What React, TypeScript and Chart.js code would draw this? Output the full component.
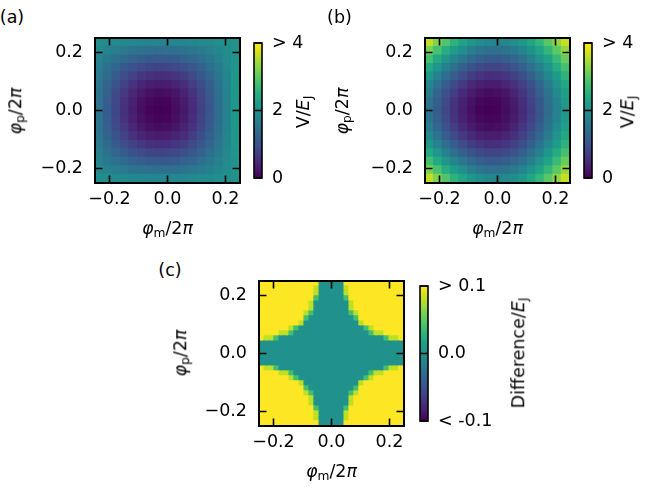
import React, { useEffect, useRef } from "react";
import { Chart, registerables } from "chart.js";

Chart.register(...registerables);

// ---------------- data ----------------
const PHI_MIN = -0.25;
const PHI_MAX = 0.25;
const PANEL_TICKS = [-0.2, 0, 0.2];
const PANEL_TICK_LABELS = ["\u22120.2", "0.0", "0.2"];

// cell centres (phi / 2pi) of the sampled grids
const PHI_COARSE = [-0.235, -0.206, -0.176, -0.147, -0.118, -0.088, -0.059, -0.029, 0, 0.029, 0.059, 0.088, 0.118, 0.147, 0.176, 0.206, 0.235];
const PHI_FINE = [-0.241, -0.224, -0.207, -0.19, -0.172, -0.155, -0.138, -0.121, -0.103, -0.086, -0.069, -0.052, -0.034, -0.017, 0, 0.017, 0.034, 0.052, 0.069, 0.086, 0.103, 0.121, 0.138, 0.155, 0.172, 0.19, 0.207, 0.224, 0.241];

// (a) V/E_J, rows from top (phi_p = +0.235) to bottom
const V_A = [
  [1.96, 1.92, 1.89, 1.87, 1.85, 1.83, 1.82, 1.82, 1.82, 1.83, 1.84, 1.86, 1.89, 1.91, 1.95, 1.98, 2.01],
  [1.87, 1.77, 1.68, 1.61, 1.54, 1.5, 1.46, 1.45, 1.46, 1.48, 1.53, 1.59, 1.66, 1.74, 1.84, 1.93, 2.04],
  [1.78, 1.62, 1.48, 1.36, 1.26, 1.18, 1.13, 1.11, 1.12, 1.16, 1.23, 1.32, 1.44, 1.58, 1.73, 1.89, 2.06],
  [1.7, 1.49, 1.3, 1.13, 0.99, 0.89, 0.82, 0.79, 0.81, 0.86, 0.96, 1.09, 1.25, 1.43, 1.64, 1.86, 2.08],
  [1.64, 1.38, 1.14, 0.94, 0.77, 0.64, 0.56, 0.52, 0.54, 0.61, 0.72, 0.88, 1.08, 1.31, 1.56, 1.82, 2.1],
  [1.58, 1.28, 1.01, 0.78, 0.58, 0.43, 0.34, 0.3, 0.32, 0.4, 0.53, 0.71, 0.94, 1.2, 1.49, 1.8, 2.11],
  [1.54, 1.21, 0.92, 0.66, 0.44, 0.28, 0.18, 0.13, 0.16, 0.24, 0.39, 0.59, 0.83, 1.12, 1.44, 1.78, 2.12],
  [1.51, 1.17, 0.86, 0.58, 0.36, 0.19, 0.08, 0.03, 0.06, 0.15, 0.3, 0.51, 0.77, 1.08, 1.41, 1.76, 2.13],
  [1.51, 1.16, 0.84, 0.56, 0.33, 0.16, 0.04, 0, 0.02, 0.12, 0.27, 0.48, 0.75, 1.06, 1.4, 1.76, 2.13],
  [1.51, 1.17, 0.86, 0.58, 0.36, 0.19, 0.08, 0.03, 0.06, 0.15, 0.3, 0.51, 0.77, 1.08, 1.41, 1.76, 2.13],
  [1.54, 1.21, 0.92, 0.66, 0.44, 0.28, 0.18, 0.13, 0.16, 0.24, 0.39, 0.59, 0.83, 1.12, 1.44, 1.78, 2.12],
  [1.58, 1.28, 1.01, 0.78, 0.58, 0.43, 0.34, 0.3, 0.32, 0.4, 0.53, 0.71, 0.94, 1.2, 1.49, 1.8, 2.11],
  [1.64, 1.38, 1.14, 0.94, 0.77, 0.64, 0.56, 0.52, 0.54, 0.61, 0.72, 0.88, 1.08, 1.31, 1.56, 1.82, 2.1],
  [1.7, 1.49, 1.3, 1.13, 0.99, 0.89, 0.82, 0.79, 0.81, 0.86, 0.96, 1.09, 1.25, 1.43, 1.64, 1.86, 2.08],
  [1.78, 1.62, 1.48, 1.36, 1.26, 1.18, 1.13, 1.11, 1.12, 1.16, 1.23, 1.32, 1.44, 1.58, 1.73, 1.89, 2.06],
  [1.87, 1.77, 1.68, 1.61, 1.54, 1.5, 1.46, 1.45, 1.46, 1.48, 1.53, 1.59, 1.66, 1.74, 1.84, 1.93, 2.04],
  [1.96, 1.92, 1.89, 1.87, 1.85, 1.83, 1.82, 1.82, 1.82, 1.83, 1.84, 1.86, 1.89, 1.91, 1.95, 1.98, 2.01],
];

// (b) V/E_J, rows from top to bottom
const V_B = [
  [3.61, 3.24, 2.9, 2.59, 2.32, 2.1, 1.94, 1.85, 1.82, 1.86, 1.96, 2.13, 2.36, 2.63, 2.96, 3.3, 3.66],
  [3.19, 2.82, 2.48, 2.19, 1.92, 1.72, 1.56, 1.48, 1.46, 1.51, 1.63, 1.81, 2.04, 2.32, 2.64, 2.98, 3.36],
  [2.79, 2.42, 2.09, 1.8, 1.55, 1.35, 1.2, 1.13, 1.12, 1.18, 1.3, 1.49, 1.73, 2.02, 2.34, 2.69, 3.07],
  [2.42, 2.07, 1.74, 1.45, 1.2, 1.01, 0.87, 0.8, 0.81, 0.87, 1.01, 1.21, 1.46, 1.75, 2.08, 2.44, 2.8],
  [2.11, 1.76, 1.43, 1.15, 0.91, 0.72, 0.6, 0.53, 0.54, 0.62, 0.76, 0.96, 1.22, 1.52, 1.85, 2.2, 2.57],
  [1.85, 1.5, 1.18, 0.9, 0.66, 0.48, 0.36, 0.31, 0.32, 0.41, 0.55, 0.76, 1.02, 1.32, 1.66, 2.02, 2.38],
  [1.66, 1.31, 0.99, 0.71, 0.48, 0.3, 0.19, 0.13, 0.16, 0.24, 0.4, 0.61, 0.87, 1.17, 1.51, 1.88, 2.24],
  [1.54, 1.2, 0.88, 0.59, 0.37, 0.2, 0.08, 0.03, 0.06, 0.15, 0.3, 0.52, 0.78, 1.09, 1.43, 1.78, 2.16],
  [1.51, 1.16, 0.84, 0.56, 0.33, 0.16, 0.04, 0, 0.02, 0.12, 0.27, 0.48, 0.75, 1.06, 1.4, 1.76, 2.13],
  [1.54, 1.2, 0.88, 0.59, 0.37, 0.2, 0.08, 0.03, 0.06, 0.15, 0.3, 0.52, 0.78, 1.09, 1.43, 1.78, 2.16],
  [1.66, 1.31, 0.99, 0.71, 0.48, 0.3, 0.19, 0.13, 0.16, 0.24, 0.4, 0.61, 0.87, 1.17, 1.51, 1.88, 2.24],
  [1.85, 1.5, 1.18, 0.9, 0.66, 0.48, 0.36, 0.31, 0.32, 0.41, 0.55, 0.76, 1.02, 1.32, 1.66, 2.02, 2.38],
  [2.11, 1.76, 1.43, 1.15, 0.91, 0.72, 0.6, 0.53, 0.54, 0.62, 0.76, 0.96, 1.22, 1.52, 1.85, 2.2, 2.57],
  [2.42, 2.07, 1.74, 1.45, 1.2, 1.01, 0.87, 0.8, 0.81, 0.87, 1.01, 1.21, 1.46, 1.75, 2.08, 2.44, 2.8],
  [2.79, 2.42, 2.09, 1.8, 1.55, 1.35, 1.2, 1.13, 1.12, 1.18, 1.3, 1.49, 1.73, 2.02, 2.34, 2.69, 3.07],
  [3.19, 2.82, 2.48, 2.19, 1.92, 1.72, 1.56, 1.48, 1.46, 1.51, 1.63, 1.81, 2.04, 2.32, 2.64, 2.98, 3.36],
  [3.61, 3.24, 2.9, 2.59, 2.32, 2.1, 1.94, 1.85, 1.82, 1.86, 1.96, 2.13, 2.36, 2.63, 2.96, 3.3, 3.66],
];

// (c) difference / E_J (saturated at 0.1), rows from top to bottom
const DIFF_C = [
  [.1, .1, .1, .1, .1, .1, .1, .1, .1, .1, .1, .1, 0, 0, 0, 0, 0, .1, .1, .1, .1, .1, .1, .1, .1, .1, .1, .1, .1],
  [.1, .1, .1, .1, .1, .1, .1, .1, .1, .1, .1, .08, 0, 0, 0, 0, 0, .08, .1, .1, .1, .1, .1, .1, .1, .1, .1, .1, .1],
  [.1, .1, .1, .1, .1, .1, .1, .1, .1, .1, .1, .08, 0, 0, 0, 0, 0, .08, .1, .1, .1, .1, .1, .1, .1, .1, .1, .1, .1],
  [.1, .1, .1, .1, .1, .1, .1, .1, .1, .1, .1, .04, 0, 0, 0, 0, 0, .04, .1, .1, .1, .1, .1, .1, .1, .1, .1, .1, .1],
  [.1, .1, .1, .1, .1, .1, .1, .1, .1, .1, .08, 0, 0, 0, 0, 0, 0, 0, .08, .1, .1, .1, .1, .1, .1, .1, .1, .1, .1],
  [.1, .1, .1, .1, .1, .1, .1, .1, .1, .1, .08, 0, 0, 0, 0, 0, 0, 0, .08, .1, .1, .1, .1, .1, .1, .1, .1, .1, .1],
  [.1, .1, .1, .1, .1, .1, .1, .1, .1, .08, .04, 0, 0, 0, 0, 0, 0, 0, .04, .08, .1, .1, .1, .1, .1, .1, .1, .1, .1],
  [.1, .1, .1, .1, .1, .1, .1, .1, .1, .04, 0, 0, 0, 0, 0, 0, 0, 0, 0, .04, .1, .1, .1, .1, .1, .1, .1, .1, .1],
  [.1, .1, .1, .1, .1, .1, .1, .1, .08, 0, 0, 0, 0, 0, 0, 0, 0, 0, 0, 0, .08, .1, .1, .1, .1, .1, .1, .1, .1],
  [.1, .1, .1, .1, .1, .1, .08, .04, 0, 0, 0, 0, 0, 0, 0, 0, 0, 0, 0, 0, 0, .04, .08, .1, .1, .1, .1, .1, .1],
  [.1, .1, .1, .1, .08, .08, .04, 0, 0, 0, 0, 0, 0, 0, 0, 0, 0, 0, 0, 0, 0, 0, .04, .08, .08, .1, .1, .1, .1],
  [.1, .08, .08, .04, 0, 0, 0, 0, 0, 0, 0, 0, 0, 0, 0, 0, 0, 0, 0, 0, 0, 0, 0, 0, 0, .04, .08, .08, .1],
  [0, 0, 0, 0, 0, 0, 0, 0, 0, 0, 0, 0, 0, 0, 0, 0, 0, 0, 0, 0, 0, 0, 0, 0, 0, 0, 0, 0, 0],
  [0, 0, 0, 0, 0, 0, 0, 0, 0, 0, 0, 0, 0, 0, 0, 0, 0, 0, 0, 0, 0, 0, 0, 0, 0, 0, 0, 0, 0],
  [0, 0, 0, 0, 0, 0, 0, 0, 0, 0, 0, 0, 0, 0, 0, 0, 0, 0, 0, 0, 0, 0, 0, 0, 0, 0, 0, 0, 0],
  [0, 0, 0, 0, 0, 0, 0, 0, 0, 0, 0, 0, 0, 0, 0, 0, 0, 0, 0, 0, 0, 0, 0, 0, 0, 0, 0, 0, 0],
  [0, 0, 0, 0, 0, 0, 0, 0, 0, 0, 0, 0, 0, 0, 0, 0, 0, 0, 0, 0, 0, 0, 0, 0, 0, 0, 0, 0, 0],
  [.1, .08, .08, .04, 0, 0, 0, 0, 0, 0, 0, 0, 0, 0, 0, 0, 0, 0, 0, 0, 0, 0, 0, 0, 0, .04, .08, .08, .1],
  [.1, .1, .1, .1, .08, .08, .04, 0, 0, 0, 0, 0, 0, 0, 0, 0, 0, 0, 0, 0, 0, 0, .04, .08, .08, .1, .1, .1, .1],
  [.1, .1, .1, .1, .1, .1, .08, .04, 0, 0, 0, 0, 0, 0, 0, 0, 0, 0, 0, 0, 0, .04, .08, .1, .1, .1, .1, .1, .1],
  [.1, .1, .1, .1, .1, .1, .1, .1, .08, 0, 0, 0, 0, 0, 0, 0, 0, 0, 0, 0, .08, .1, .1, .1, .1, .1, .1, .1, .1],
  [.1, .1, .1, .1, .1, .1, .1, .1, .1, .04, 0, 0, 0, 0, 0, 0, 0, 0, 0, .04, .1, .1, .1, .1, .1, .1, .1, .1, .1],
  [.1, .1, .1, .1, .1, .1, .1, .1, .1, .08, .04, 0, 0, 0, 0, 0, 0, 0, .04, .08, .1, .1, .1, .1, .1, .1, .1, .1, .1],
  [.1, .1, .1, .1, .1, .1, .1, .1, .1, .1, .08, 0, 0, 0, 0, 0, 0, 0, .08, .1, .1, .1, .1, .1, .1, .1, .1, .1, .1],
  [.1, .1, .1, .1, .1, .1, .1, .1, .1, .1, .08, 0, 0, 0, 0, 0, 0, 0, .08, .1, .1, .1, .1, .1, .1, .1, .1, .1, .1],
  [.1, .1, .1, .1, .1, .1, .1, .1, .1, .1, .1, .04, 0, 0, 0, 0, 0, .04, .1, .1, .1, .1, .1, .1, .1, .1, .1, .1, .1],
  [.1, .1, .1, .1, .1, .1, .1, .1, .1, .1, .1, .08, 0, 0, 0, 0, 0, .08, .1, .1, .1, .1, .1, .1, .1, .1, .1, .1, .1],
  [.1, .1, .1, .1, .1, .1, .1, .1, .1, .1, .1, .08, 0, 0, 0, 0, 0, .08, .1, .1, .1, .1, .1, .1, .1, .1, .1, .1, .1],
  [.1, .1, .1, .1, .1, .1, .1, .1, .1, .1, .1, .1, 0, 0, 0, 0, 0, .1, .1, .1, .1, .1, .1, .1, .1, .1, .1, .1, .1],
];

const CB_V_TICKS = [0, 2, 4];
const CB_V_LABELS = ["0", "2", "> 4"];
const CB_D_TICKS = [-0.1, 0, 0.1];
const CB_D_LABELS = ["< -0.1", "0.0", "> 0.1"];

// ---------------- style ----------------
const FONT = '"DejaVu Sans", sans-serif';
const FONT_SIZE = 17.5;
const VIRIDIS = [
  "#440154", "#471365", "#482475", "#463480", "#414487", "#3b528b", "#355f8d",
  "#2f6c8e", "#2a788e", "#25848e", "#21918c", "#1e9c89", "#22a884", "#2fb47c",
  "#44bf70", "#5ec962", "#7ad151", "#9bd93c", "#bddf26", "#dfe318", "#fde725",
];

function hexToRgb(h: string) {
  return [parseInt(h.slice(1, 3), 16), parseInt(h.slice(3, 5), 16), parseInt(h.slice(5, 7), 16)];
}
const VIRIDIS_RGB = VIRIDIS.map(hexToRgb);

function viridis(t: number) {
  const c = Math.min(1, Math.max(0, t)) * (VIRIDIS_RGB.length - 1);
  const i = Math.min(VIRIDIS_RGB.length - 2, Math.floor(c));
  const f = c - i;
  const a = VIRIDIS_RGB[i];
  const b = VIRIDIS_RGB[i + 1];
  const m = (k: number) => Math.round(a[k] + (b[k] - a[k]) * f);
  return `rgb(${m(0)},${m(1)},${m(2)})`;
}

Chart.defaults.font.family = FONT;
Chart.defaults.font.size = FONT_SIZE;
Chart.defaults.color = "#000";

const framePlugin = {
  id: "frameTicks",
  afterDatasetsDraw(chart: any) {
    const { ctx, chartArea: a, scales } = chart;
    ctx.save();
    ctx.strokeStyle = "#000";
    ctx.lineWidth = 1.6;
    const tl = 7.5;
    ctx.beginPath();
    for (const t of scales.x.ticks) {
      const px = scales.x.getPixelForValue(t.value);
      ctx.moveTo(px, a.bottom);
      ctx.lineTo(px, a.bottom - tl);
      ctx.moveTo(px, a.top);
      ctx.lineTo(px, a.top + tl);
    }
    for (const t of scales.y.ticks) {
      const py = scales.y.getPixelForValue(t.value);
      ctx.moveTo(a.left, py);
      ctx.lineTo(a.left + tl, py);
      ctx.moveTo(a.right, py);
      ctx.lineTo(a.right - tl, py);
    }
    ctx.stroke();
    ctx.lineWidth = 2;
    ctx.strokeRect(a.left, a.top, a.right - a.left, a.bottom - a.top);
    ctx.restore();
  },
};

const cbFramePlugin = {
  id: "cbFrame",
  afterDatasetsDraw(chart: any) {
    const { ctx, chartArea: a, scales } = chart;
    ctx.save();
    ctx.strokeStyle = "#000";
    ctx.lineWidth = 1.6;
    ctx.beginPath();
    for (const t of scales.y.ticks) {
      const py = scales.y.getPixelForValue(t.value);
      ctx.moveTo(a.left, py);
      ctx.lineTo(a.right, py);
    }
    ctx.stroke();
    ctx.strokeRect(a.left, a.top, a.right - a.left, a.bottom - a.top);
    ctx.restore();
  },
};

type Box = { left: number; top: number; size: number };

function Heatmap({ box, xs, ys, grid, vmin, vmax }: { box: Box; xs: number[]; ys: number[]; grid: number[][]; vmin: number; vmax: number }) {
  const ref = useRef<HTMLCanvasElement>(null);
  const padL = 70, padT = 30, padR = 25, padB = 40;
  useEffect(() => {
    const points: { x: number; y: number }[] = [];
    const colors: string[] = [];
    grid.forEach((row, r) =>
      row.forEach((v, c) => {
        points.push({ x: xs[c], y: ys[ys.length - 1 - r] });
        colors.push(viridis((v - vmin) / (vmax - vmin)));
      })
    );
    const cellW = (PHI_MAX - PHI_MIN) / xs.length;
    const chart = new Chart(ref.current as HTMLCanvasElement, {
      type: "scatter",
      data: {
        datasets: [
          {
            data: points,
            pointBackgroundColor: colors,
            pointBorderWidth: 0,
            pointStyle: "rect",
            pointRadius: (ctx: any) => {
              const sx = ctx.chart.scales.x;
              const half = Math.abs(sx.getPixelForValue(cellW) - sx.getPixelForValue(0)) / 2 + 0.6;
              return half / Math.SQRT1_2;
            },
          } as any,
        ],
      },
      options: {
        animation: false,
        responsive: false,
        events: [],
        layout: { padding: { left: 0, top: padT, right: padR, bottom: 0 } },
        plugins: { legend: { display: false }, tooltip: { enabled: false } },
        scales: {
          x: {
            type: "linear",
            min: PHI_MIN,
            max: PHI_MAX,
            grid: { display: false, drawTicks: false },
            border: { display: false },
            afterBuildTicks: (s: any) => {
              s.ticks = PANEL_TICKS.map((v) => ({ value: v }));
            },
            afterFit: (s: any) => {
              s.height = padB;
            },
            ticks: { padding: 6, maxRotation: 0, autoSkip: false, callback: (_v: any, i: number) => PANEL_TICK_LABELS[i] },
          },
          y: {
            type: "linear",
            min: PHI_MIN,
            max: PHI_MAX,
            grid: { display: false, drawTicks: false },
            border: { display: false },
            afterBuildTicks: (s: any) => {
              s.ticks = PANEL_TICKS.map((v) => ({ value: v }));
            },
            afterFit: (s: any) => {
              s.width = padL;
            },
            ticks: { padding: 12, autoSkip: false, callback: (_v: any, i: number) => PANEL_TICK_LABELS[i] },
          },
        },
      } as any,
      plugins: [framePlugin],
    });
    return () => chart.destroy();
  }, []);
  return (
    <canvas
      ref={ref}
      width={box.size + padL + padR}
      height={box.size + padT + padB}
      style={{ position: "absolute", left: box.left - padL, top: box.top - padT }}
    />
  );
}

function Colorbar({ left, top, w, h, vmin, vmax, ticks, labels }: { left: number; top: number; w: number; h: number; vmin: number; vmax: number; ticks: number[]; labels: string[] }) {
  const ref = useRef<HTMLCanvasElement>(null);
  const padL = 4, padT = 28, padB = 28, axisW = 90;
  useEffect(() => {
    const chart = new Chart(ref.current as HTMLCanvasElement, {
      type: "bar",
      data: {
        labels: [""],
        datasets: [
          {
            data: [[vmin, vmax]],
            borderWidth: 0,
            barPercentage: 1,
            categoryPercentage: 1,
            backgroundColor: (c: any) => {
              const ch = c.chart;
              const a = ch.chartArea;
              if (!a) return VIRIDIS[10];
              const g = ch.ctx.createLinearGradient(0, a.bottom, 0, a.top);
              VIRIDIS.forEach((col, i) => g.addColorStop(i / (VIRIDIS.length - 1), col));
              return g;
            },
          } as any,
        ],
      },
      options: {
        animation: false,
        responsive: false,
        events: [],
        layout: { padding: { left: padL, top: padT, right: 0, bottom: padB } },
        plugins: { legend: { display: false }, tooltip: { enabled: false } },
        scales: {
          x: { display: false },
          y: {
            type: "linear",
            position: "right",
            min: vmin,
            max: vmax,
            grid: { display: false, drawTicks: false },
            border: { display: false },
            afterBuildTicks: (s: any) => {
              s.ticks = ticks.map((v) => ({ value: v }));
            },
            afterFit: (s: any) => {
              s.width = axisW;
            },
            ticks: { padding: 10, autoSkip: false, callback: (_v: any, i: number) => labels[i] },
          },
        },
      } as any,
      plugins: [cbFramePlugin],
    });
    return () => chart.destroy();
  }, []);
  return (
    <canvas
      ref={ref}
      width={padL + w + axisW}
      height={padT + h + padB}
      style={{ position: "absolute", left: left - padL, top: top - padT }}
    />
  );
}

function Txt({ x, y, rot, children }: { x: number; y: number; rot?: boolean; children: any }) {
  return (
    <div
      style={{
        position: "absolute",
        left: x,
        top: y,
        transform: `translate(-50%, -50%)${rot ? " rotate(-90deg)" : ""}`,
        whiteSpace: "nowrap",
        fontFamily: FONT,
        fontSize: FONT_SIZE,
        lineHeight: 1,
        color: "#000",
      }}
    >
      {children}
    </div>
  );
}

const it = { fontStyle: "italic" as const };
const sub = { fontSize: "0.7em", position: "relative" as const, top: "0.22em" };

function PhiLabel({ s }: { s: string }) {
  return (
    <span>
      <span style={it}>φ</span>
      <span style={sub}>{s}</span>/2<span style={it}>π</span>
    </span>
  );
}

function EjLabel({ pre }: { pre: string }) {
  return (
    <span>
      {pre}/<span style={it}>E</span>
      <span style={sub}>J</span>
    </span>
  );
}

export default function App() {
  return (
    <div
      style={{
        position: "fixed",
        left: 0,
        top: 0,
        width: 648,
        height: 489,
        background: "#fff",
        overflow: "hidden",
      }}
    >
      <Heatmap box={{ left: 95, top: 38, size: 145 }} xs={PHI_COARSE} ys={PHI_COARSE} grid={V_A} vmin={0} vmax={4} />
      <Heatmap box={{ left: 425, top: 38, size: 145 }} xs={PHI_COARSE} ys={PHI_COARSE} grid={V_B} vmin={0} vmax={4} />
      <Heatmap box={{ left: 259, top: 281, size: 145 }} xs={PHI_FINE} ys={PHI_FINE} grid={DIFF_C} vmin={-0.1} vmax={0.1} />

      <Colorbar left={254} top={43} w={8} h={135} vmin={0} vmax={4} ticks={CB_V_TICKS} labels={CB_V_LABELS} />
      <Colorbar left={584} top={43} w={8} h={135} vmin={0} vmax={4} ticks={CB_V_TICKS} labels={CB_V_LABELS} />
      <Colorbar left={420} top={286} w={8} h={135} vmin={-0.1} vmax={0.1} ticks={CB_D_TICKS} labels={CB_D_LABELS} />

      <Txt x={12} y={17.5}>(a)</Txt>
      <Txt x={339.5} y={17.5}>(b)</Txt>
      <Txt x={170} y={271}>(c)</Txt>

      <Txt x={167.5} y={229}><PhiLabel s="m" /></Txt>
      <Txt x={497.5} y={229}><PhiLabel s="m" /></Txt>
      <Txt x={331.5} y={472}><PhiLabel s="m" /></Txt>

      <Txt x={16} y={111} rot><PhiLabel s="p" /></Txt>
      <Txt x={343} y={111} rot><PhiLabel s="p" /></Txt>
      <Txt x={181} y={353} rot><PhiLabel s="p" /></Txt>

      <Txt x={303.5} y={111.5} rot><EjLabel pre="V" /></Txt>
      <Txt x={628} y={111.5} rot><EjLabel pre="V" /></Txt>
      <Txt x={519} y={353} rot><EjLabel pre="Difference" /></Txt>
    </div>
  );
}
